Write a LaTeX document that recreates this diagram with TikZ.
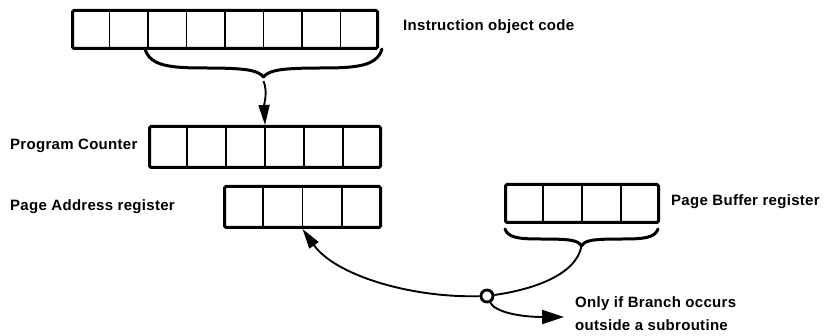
\documentclass[tikz,border=0pt]{standalone}
\usepackage{fontspec}
\setmainfont{Liberation Sans}
\newfontfamily\labfont[LetterSpace=2]{Liberation Sans}
\usetikzlibrary{arrows.meta,calc}

\tikzset{
  reg/.style={draw, line width=3pt, rounded corners=1.5pt, inner sep=0pt, anchor=north west},
  divider/.style={line width=1.8pt},
  bracecurve/.style={line width=3pt, line cap=round, line join=round},
  wire/.style={line width=1.9pt},
  conn/.style={wire, -{Triangle[length=20pt,width=11pt]}},
  junction/.style={circle, draw, fill=white, line width=2.8pt, minimum size=12pt, inner sep=0pt},
  lab/.style={anchor=west, inner sep=0pt, font=\fontsize{15}{17}\labfont\bfseries},
}

\begin{document}
\begin{tikzpicture}[x=1pt, y=-1pt]
\useasboundingbox (0,0) rectangle (824,336);

% registers
\node[reg, minimum width=305pt, minimum height=38pt] (ioc) at (71,9) {};
\node[reg, minimum width=231pt, minimum height=41pt] (pc) at (148,125) {};
\node[reg, minimum width=156pt, minimum height=41pt] (pa) at (223,185) {};
\node[reg, minimum width=153pt, minimum height=38pt] (pb) at (504,183) {};

% cell dividers
\foreach \r/\n in {ioc/8, pc/6, pa/4, pb/4}{
  \pgfmathtruncatemacro\last{\n-1}
  \foreach \i in {1,...,\last}{
    \draw[divider] ($(\r.north west)!\i/\n!(\r.north east)$) -- ($(\r.south west)!\i/\n!(\r.south east)$);
  }
}

% curly brace under the instruction word
\coordinate (itip) at (263.5,77);
\draw[bracecurve] (145,49) .. controls (150,66) and (170,68) .. (205,68)
  .. controls (245,68) and (258,70) .. (itip);
\draw[bracecurve] (382,49) .. controls (377,66) and (357,68) .. (322,68)
  .. controls (282,68) and (269,70) .. (itip);

% curly brace under the page buffer
\coordinate (btip) at (581.5,246);
\draw[bracecurve] (505,229) .. controls (508,238) and (520,239) .. (540,239)
  .. controls (570,239) and (578,240) .. (btip);
\draw[bracecurve] (658,229) .. controls (655,238) and (643,239) .. (623,239)
  .. controls (593,239) and (585,240) .. (btip);

% connectors
\coordinate (istem) at (263.5,81);
\draw[conn] (istem) .. controls (268,92) and (264,104) .. (pc.north);
\node[junction] (j) at (487,296) {};
\coordinate (out) at (564,317);
\draw[wire] (btip) .. controls (576,276) and (530,290) .. (j);
\draw[conn] (j) .. controls (410,298) and (335,275) .. (pa.south);
\draw[wire, -{Triangle[length=22pt,width=14pt]}] (j) .. controls (495,312) and (520,317) .. (out);

% labels
\node[lab] (tioc) at (403,27) {Instruction object code};
\node[lab] (tpc) at (10,146) {Program Counter};
\node[lab] (tpa) at (10,207) {Page Address register};
\node[lab] (tpb) at (671,202) {Page Buffer register};
\node[lab, align=left, font=\fontsize{15}{23}\labfont\bfseries] (tnote) at (575,313.5) {Only if Branch occurs\\outside a subroutine};
\end{tikzpicture}
\end{document}
